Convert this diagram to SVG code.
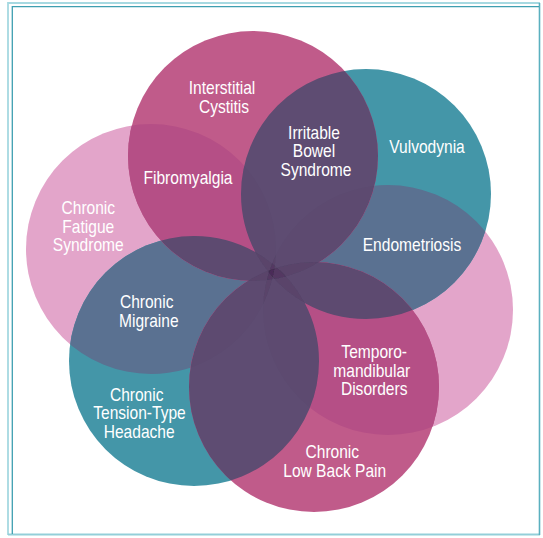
<svg xmlns="http://www.w3.org/2000/svg" xmlns:xlink="http://www.w3.org/1999/xlink" width="543" height="538" viewBox="0 0 543 538">
  <style>
    .lbl { font-family: "Liberation Sans", Arial, sans-serif; font-size: 18px; fill: #ffffff; text-anchor: middle; }
    .pink { fill: #E3A5CA; }
    .teal { fill: #4496A8; }
    .mag { fill: #C05B8A; }
    .tp { fill: #5A7191; }
    .mp { fill: #B54F86; }
    .mt { fill: #5E4C72; }
    .shade { fill: #1d1530; fill-opacity: 0.02; }
  </style>
  <defs>
    <circle id="cIC" cx="253" cy="156" r="125"/>
    <circle id="cVU" cx="366" cy="194" r="125"/>
    <circle id="cPR" cx="388" cy="310" r="125"/>
    <circle id="cLB" cx="314" cy="387" r="125"/>
    <circle id="cTT" cx="194" cy="361" r="125"/>
    <circle id="cCF" cx="151" cy="249" r="125"/>
    <clipPath id="kIC"><use xlink:href="#cIC"/></clipPath>
    <clipPath id="kVU"><use xlink:href="#cVU"/></clipPath>
    <clipPath id="kPR"><use xlink:href="#cPR"/></clipPath>
    <clipPath id="kLB"><use xlink:href="#cLB"/></clipPath>
    <clipPath id="kTT"><use xlink:href="#cTT"/></clipPath>
    <clipPath id="kCF"><use xlink:href="#cCF"/></clipPath>
    <clipPath id="kPinks"><use xlink:href="#cPR"/><use xlink:href="#cCF"/></clipPath>
    <clipPath id="kTeals"><use xlink:href="#cVU"/><use xlink:href="#cTT"/></clipPath>
  </defs>

  <g id="frame" fill="none">
    <path d="M8 535 V3 H540" stroke="#A6D9E1" stroke-width="1.8"/>
    <path d="M8 534.5 H540" stroke="#93CFD9" stroke-width="1.8"/>
    <path d="M539.5 3 V535" stroke="#5BB0BF" stroke-width="1.6"/>
    <path d="M12.3 534 V6.7 H539" stroke="#3E9FB1" stroke-width="1.3"/>
  </g>

  <g id="circle-shapes">
    <g id="pink-layer" class="pink">
      <use xlink:href="#cCF"/>
      <use xlink:href="#cPR"/>
    </g>
    <g id="teal-layer" class="teal">
      <use xlink:href="#cVU"/>
      <use xlink:href="#cTT"/>
    </g>
    <g id="teal-pink-overlap" class="tp" clip-path="url(#kPinks)">
      <use xlink:href="#cVU"/>
      <use xlink:href="#cTT"/>
    </g>
    <g id="magenta-layer" class="mag">
      <use xlink:href="#cIC"/>
      <use xlink:href="#cLB"/>
    </g>
    <g id="magenta-pink-overlap" class="mp" clip-path="url(#kPinks)">
      <use xlink:href="#cIC"/>
      <use xlink:href="#cLB"/>
    </g>
    <g id="magenta-teal-overlap" class="mt" clip-path="url(#kTeals)">
      <use xlink:href="#cIC"/>
      <use xlink:href="#cLB"/>
    </g>
    <g id="center-shading" class="shade">
      <g clip-path="url(#kIC)"><g clip-path="url(#kVU)"><use xlink:href="#cPR"/><use xlink:href="#cLB"/><use xlink:href="#cTT"/><use xlink:href="#cCF"/></g></g>
      <g clip-path="url(#kIC)"><g clip-path="url(#kPR)"><use xlink:href="#cLB"/><use xlink:href="#cTT"/><use xlink:href="#cCF"/></g></g>
      <g clip-path="url(#kIC)"><g clip-path="url(#kLB)"><use xlink:href="#cTT"/><use xlink:href="#cCF"/></g></g>
      <g clip-path="url(#kIC)"><g clip-path="url(#kTT)"><use xlink:href="#cCF"/></g></g>
      <g clip-path="url(#kVU)"><g clip-path="url(#kPR)"><use xlink:href="#cLB"/><use xlink:href="#cTT"/><use xlink:href="#cCF"/></g></g>
      <g clip-path="url(#kVU)"><g clip-path="url(#kLB)"><use xlink:href="#cTT"/><use xlink:href="#cCF"/></g></g>
      <g clip-path="url(#kVU)"><g clip-path="url(#kTT)"><use xlink:href="#cCF"/></g></g>
      <g clip-path="url(#kPR)"><g clip-path="url(#kLB)"><use xlink:href="#cTT"/><use xlink:href="#cCF"/></g></g>
      <g clip-path="url(#kPR)"><g clip-path="url(#kTT)"><use xlink:href="#cCF"/></g></g>
      <g clip-path="url(#kLB)"><g clip-path="url(#kTT)"><use xlink:href="#cCF"/></g></g>
    </g>
  </g>

  <g id="connectors"></g>

  <g id="interstitial-cystitis" class="lbl">
    <text transform="translate(222,0) scale(0.865,1)" x="0" y="93.7">Interstitial</text>
    <text transform="translate(224,0) scale(0.865,1)" x="0" y="112.6">Cystitis</text>
  </g>
  <g id="irritable-bowel-syndrome" class="lbl">
    <text transform="translate(314,0) scale(0.865,1)" x="0" y="139">Irritable</text>
    <text transform="translate(314,0) scale(0.865,1)" x="0" y="157.3">Bowel</text>
    <text transform="translate(316,0) scale(0.865,1)" x="0" y="175.7">Syndrome</text>
  </g>
  <g id="vulvodynia" class="lbl">
    <text transform="translate(427,0) scale(0.865,1)" x="0" y="153">Vulvodynia</text>
  </g>
  <g id="fibromyalgia" class="lbl">
    <text transform="translate(188,0) scale(0.865,1)" x="0" y="184">Fibromyalgia</text>
  </g>
  <g id="chronic-fatigue-syndrome" class="lbl">
    <text transform="translate(88.3,0) scale(0.865,1)" x="0" y="214">Chronic</text>
    <text transform="translate(88.3,0) scale(0.865,1)" x="0" y="232.7">Fatigue</text>
    <text transform="translate(88.2,0) scale(0.865,1)" x="0" y="251">Syndrome</text>
  </g>
  <g id="endometriosis" class="lbl">
    <text transform="translate(412,0) scale(0.865,1)" x="0" y="251">Endometriosis</text>
  </g>
  <g id="chronic-migraine" class="lbl">
    <text transform="translate(146.7,0) scale(0.865,1)" x="0" y="308">Chronic</text>
    <text transform="translate(148.8,0) scale(0.865,1)" x="0" y="326.7">Migraine</text>
  </g>
  <g id="temporomandibular-disorders" class="lbl">
    <text transform="translate(374.2,0) scale(0.865,1)" x="0" y="357.7">Temporo-</text>
    <text transform="translate(371.8,0) scale(0.865,1)" x="0" y="376.7">mandibular</text>
    <text transform="translate(374.2,0) scale(0.865,1)" x="0" y="395">Disorders</text>
  </g>
  <g id="chronic-tension-type-headache" class="lbl">
    <text transform="translate(136.7,0) scale(0.865,1)" x="0" y="400.7">Chronic</text>
    <text transform="translate(139.5,0) scale(0.865,1)" x="0" y="419.3">Tension-Type</text>
    <text transform="translate(139.2,0) scale(0.865,1)" x="0" y="438">Headache</text>
  </g>
  <g id="chronic-low-back-pain" class="lbl">
    <text transform="translate(332.3,0) scale(0.865,1)" x="0" y="458.3">Chronic</text>
    <text transform="translate(334.7,0) scale(0.865,1)" x="0" y="476.7">Low Back Pain</text>
  </g>
</svg>
